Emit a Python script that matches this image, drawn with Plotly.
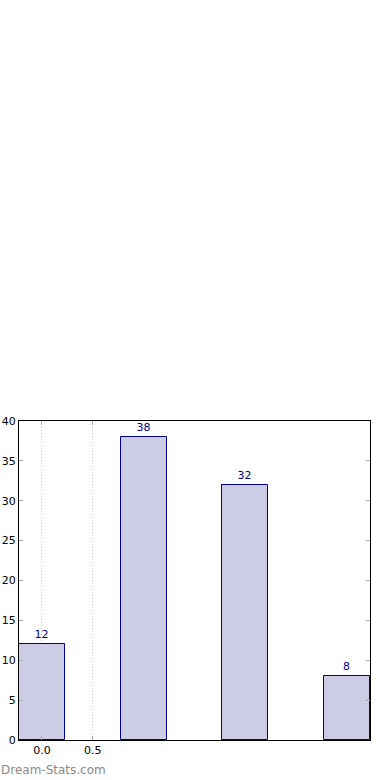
import plotly.graph_objects as go

positions = [0, 1, 2, 3]
values = [12, 38, 32, 8]
tick_vals = [0.0, 0.5]
tick_text = ["0.0", "0.5"]

fig = go.Figure()
fig.add_trace(go.Bar(
    x=positions, y=values, width=0.45,
    marker=dict(color="#cccce4", line=dict(color="#00008b", width=1)),
    text=[str(v) for v in values], textposition="outside",
    textfont=dict(color="#00008b", size=11, family="DejaVu Sans"),
    cliponaxis=False,
))

fig.update_layout(
    width=390, height=780,
    margin=dict(l=19, r=20, t=421, b=40),
    plot_bgcolor="white", paper_bgcolor="white",
    showlegend=False,
    font=dict(family="DejaVu Sans", size=11, color="black"),
    bargap=0,
)
fig.update_xaxes(
    range=[-0.225, 3.225], tickvals=tick_vals, ticktext=tick_text,
    showgrid=True, gridcolor="#c8c8c8", griddash="1px,2px", gridwidth=1,
    ticks="inside", ticklen=4, tickcolor="#aaaaaa",
    showline=True, linecolor="black", linewidth=1, mirror="allticks",
    zeroline=False, automargin=False,
)
fig.update_yaxes(
    range=[0, 40], dtick=5, showgrid=False,
    ticks="inside", ticklen=4, tickcolor="#aaaaaa",
    showline=True, linecolor="black", linewidth=1, mirror="allticks",
    zeroline=False, automargin=False,
)
fig.add_annotation(
    text="Dream-Stats.com", xref="paper", yref="paper",
    x=-20/351, y=-30/319, xanchor="left", yanchor="middle",
    showarrow=False, font=dict(family="DejaVu Sans", size=12, color="#8a8a8a"),
)
fig.write_html("out.html")
